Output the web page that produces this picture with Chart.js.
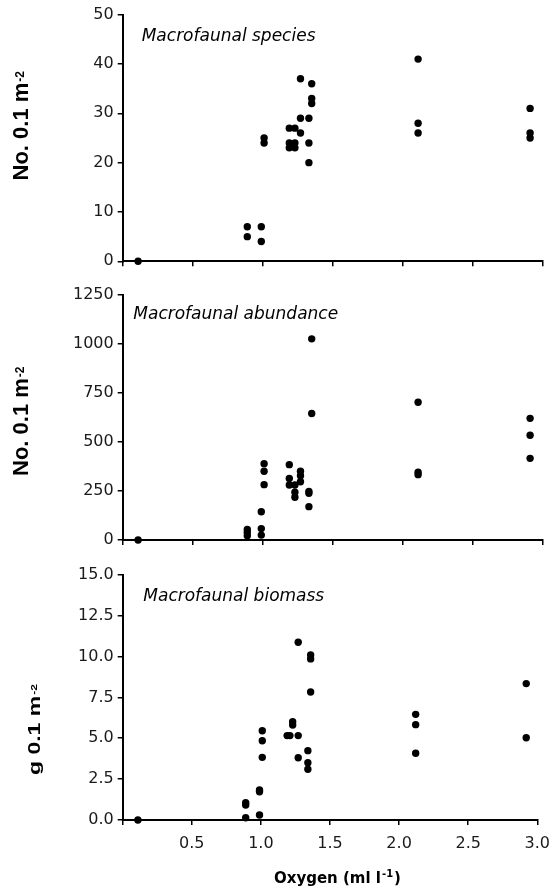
<!DOCTYPE html>
<html>
<head>
<meta charset="utf-8">
<script src="https://cdn.jsdelivr.net/npm/chart.js@4/dist/chart.umd.min.js"></script>
<style>
html,body{margin:0;padding:0;background:#fff;}
#wrap{position:relative;width:559px;height:890px;overflow:hidden;}
canvas{position:absolute;left:0;}
</style>
</head>
<body>
<div id="wrap">
<canvas id="c1" width="559" height="280" style="top:0px"></canvas>
<canvas id="c2" width="559" height="280" style="top:280px"></canvas>
<canvas id="c3" width="559" height="330" style="top:560px"></canvas>
</div>
<script>
// ---- data ----
const xTicks = [0, 0.5, 1.0, 1.5, 2.0, 2.5, 3.0];

const oxygenSpecies = [0.11,0.89,0.89,0.99,0.99,1.01,1.01,1.19,1.19,1.19,1.23,1.23,1.23,1.27,1.27,1.27,1.33,1.33,1.33,1.35,1.35,1.35,2.11,2.11,2.11,2.91,2.91,2.91];
const speciesCount  = [0,7,5,7,4,25,24,27,24,23,27,24,23,37,29,26,29,24,20,36,33,32,41,28,26,31,26,25];
const speciesTicks  = [0, 10, 20, 30, 40, 50];

const oxygenAbundance = [0.11,0.89,0.89,0.89,0.99,0.99,0.99,1.01,1.01,1.01,1.19,1.19,1.19,1.23,1.23,1.23,1.27,1.27,1.27,1.33,1.33,1.33,1.35,1.35,2.11,2.11,2.11,2.91,2.91,2.91];
const abundance       = [0,54,39,22,144,58,25,389,350,282,384,314,280,280,243,218,350,328,297,248,238,170,1025,645,702,345,333,620,534,416];
const abundanceTicks  = [0, 250, 500, 750, 1000, 1250];

const oxygenBiomass = [0.11,0.89,0.89,0.89,0.99,0.99,0.99,1.01,1.01,1.01,1.19,1.21,1.23,1.23,1.27,1.27,1.27,1.34,1.34,1.34,1.36,1.36,1.36,2.12,2.12,2.12,2.92,2.92];
const biomass       = [0,1.06,0.92,0.14,1.83,1.73,0.31,5.46,4.85,3.83,5.16,5.16,6.01,5.81,10.87,5.16,3.81,4.24,3.5,3.1,10.09,9.85,7.83,6.46,5.83,4.08,8.34,5.03];
const biomassTicks  = [0, 2.5, 5, 7.5, 10, 12.5, 15];

const panelLabels = ['Macrofaunal species', 'Macrofaunal abundance', 'Macrofaunal biomass'];
const yTitles = [['No. 0.1 m', '-2'], ['No. 0.1 m', '-2'], ['g 0.1 m', '-2']];
const xTitle = ['Oxygen (ml l', '-1', ')'];

// ---- drawing ----
const TICK_FONT = {family: '"DejaVu Sans", sans-serif', size: 16};

function rotTitle(ctx, main, sup, x, yBottom, size, sy) {
  ctx.save();
  ctx.translate(x, yBottom);
  ctx.rotate(-Math.PI / 2);
  ctx.scale(1, sy);
  ctx.fillStyle = '#000';
  ctx.textAlign = 'left';
  ctx.textBaseline = 'alphabetic';
  ctx.font = 'bold ' + size + 'px "Liberation Sans", Arial, sans-serif';
  ctx.fillText(main, 0, 0);
  const w = ctx.measureText(main).width;
  ctx.font = 'bold 12px "Liberation Sans", Arial, sans-serif';
  ctx.fillText(sup, w + 1, -4);
  ctx.restore();
}

function makePanel(id, xs, ys, yTicks, yFmt, height, areaBottom, showX, text) {
  const pts = xs.map((x, i) => ({x: x, y: ys[i]}));
  const textPlugin = {
    id: 'texts' + id,
    afterDraw(chart) {
      const ctx = chart.ctx;
      ctx.save();
      ctx.fillStyle = '#000';
      ctx.textAlign = 'left';
      ctx.textBaseline = 'alphabetic';
      ctx.font = 'oblique 17px "DejaVu Sans", sans-serif';
      ctx.fillText(text.label, text.lx, text.ly);
      ctx.restore();
      rotTitle(ctx, text.yt[0], text.yt[1], text.tx, text.ty, text.tsize, text.tsy);
      if (text.xt) {
        ctx.save();
        ctx.fillStyle = '#000';
        ctx.textBaseline = 'alphabetic';
        ctx.textAlign = 'left';
        let x = text.xx;
        ctx.font = 'bold 15px "DejaVu Sans", sans-serif';
        ctx.fillText(text.xt[0], x, text.xy);
        x += ctx.measureText(text.xt[0]).width + 1;
        ctx.font = 'bold 10px "DejaVu Sans", sans-serif';
        ctx.fillText(text.xt[1], x, text.xy - 6);
        x += ctx.measureText(text.xt[1]).width + 1;
        ctx.font = 'bold 15px "DejaVu Sans", sans-serif';
        ctx.fillText(text.xt[2], x, text.xy);
        ctx.restore();
      }
    }
  };
  return new Chart(document.getElementById(id), {
    type: 'scatter',
    data: {datasets: [{
      data: pts,
      backgroundColor: '#000',
      borderWidth: 0,
      pointRadius: 3.7,
      pointHoverRadius: 3.7,
      clip: false
    }]},
    options: {
      responsive: false,
      animation: false,
      events: [],
      layout: {padding: {top: 14.7, right: 16.3, left: 0, bottom: 0}},
      plugins: {legend: {display: false}, tooltip: {enabled: false}},
      scales: {
        x: {
          type: 'linear',
          min: xTicks[0], max: xTicks[xTicks.length - 1],
          afterBuildTicks: s => { s.ticks = xTicks.map(v => ({value: v})); },
          afterFit: s => { s.height = height - areaBottom; },
          border: {display: true, color: '#000', width: 2},
          grid: {drawOnChartArea: false, drawTicks: true, tickLength: 5, color: '#000', lineWidth: 1.5},
          ticks: {
            display: showX,
            padding: 9,
            color: '#1a1a1a',
            font: TICK_FONT,
            maxRotation: 0,
            autoSkip: false,
            callback: v => (v === 0 ? '' : Number(v).toFixed(1))
          }
        },
        y: {
          type: 'linear',
          min: yTicks[0], max: yTicks[yTicks.length - 1],
          afterBuildTicks: s => { s.ticks = yTicks.map(v => ({value: v})); },
          afterFit: s => { s.width = 122.7; },
          border: {display: true, color: '#000', width: 2},
          grid: {drawOnChartArea: false, drawTicks: true, tickLength: 5, color: '#000', lineWidth: 1.5},
          ticks: {
            padding: 4,
            color: '#1a1a1a',
            font: TICK_FONT,
            autoSkip: false,
            callback: yFmt
          }
        }
      }
    },
    plugins: [textPlugin]
  });
}

makePanel('c1', oxygenSpecies, speciesCount, speciesTicks, v => String(v), 280, 261.3, false,
  {label: panelLabels[0], lx: 141.7, ly: 40.7, yt: yTitles[0], tx: 28.3, ty: 180.5, tsize: 22, tsy: 1});
makePanel('c2', oxygenAbundance, abundance, abundanceTicks, v => String(v), 280, 260, false,
  {label: panelLabels[1], lx: 133.3, ly: 38.5, yt: yTitles[1], tx: 28.3, ty: 196, tsize: 22, tsy: 1});
makePanel('c3', oxygenBiomass, biomass, biomassTicks, v => Number(v).toFixed(1), 330, 260, true,
  {label: panelLabels[2], lx: 143.3, ly: 40.7, yt: yTitles[2], tx: 39.5, ty: 215, tsize: 23, tsy: 0.68,
   xt: xTitle, xx: 274, xy: 322.7});
</script>
</body>
</html>
